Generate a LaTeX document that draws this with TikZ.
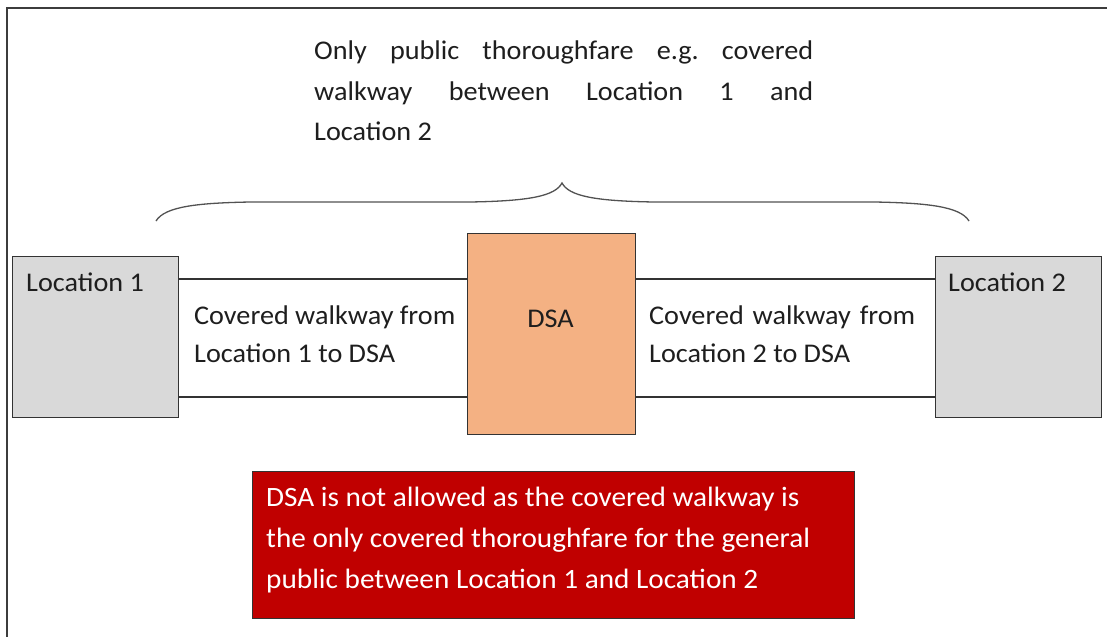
\documentclass[tikz,border=0pt]{standalone}
\usepackage{fontspec}
\setmainfont{Carlito}[FakeStretch=1.045]
\definecolor{txt}{HTML}{1E1E1E}
\definecolor{edge}{HTML}{333333}
\definecolor{locfill}{HTML}{D9D9D9}
\definecolor{dsafill}{HTML}{F4B183}
\definecolor{redfill}{HTML}{C00000}
\definecolor{framec}{HTML}{3C3C3C}
\begin{document}
\begin{tikzpicture}[x=1pt,y=-1pt,
  every node/.style={font=\fontsize{27}{40.5}\selectfont, text=txt},
  box/.style={draw=edge, line width=1.3pt, anchor=north west, inner sep=0pt},
  locbox/.style={box, fill=locfill, minimum width=166pt, minimum height=161pt},
  dsabox/.style={box, fill=dsafill, minimum width=168pt, minimum height=201pt},
  redbox/.style={box, fill=redfill, minimum width=602pt, minimum height=147pt},
  lbl/.style={anchor=base west, inner sep=0pt},
  redlbl/.style={lbl, text=white, font=\fontsize{28}{40.5}\selectfont},
  walk/.style={draw=edge, line width=1.3pt},
  bracec/.style={draw=edge!85, line width=1.3pt}
]
\useasboundingbox (0,0) rectangle (1107,637);
% frame (only top and left edges visible)
\draw[framec, line width=2pt] (1107,8) -- (7,8) -- (7,637);

% boxes
\node[locbox] (loc1) at (12,256) {};
\node[locbox] (loc2) at (935,256) {};
\node[dsabox] (dsa) at (467,233) {};
\node[redbox] (red) at (252,471) {};

% walkway edges
\coordinate (wt) at (0,279);
\coordinate (wb) at (0,397);
\draw[walk] (loc1.east |- wt) -- (dsa.west |- wt);
\draw[walk] (loc1.east |- wb) -- (dsa.west |- wb);
\draw[walk] (dsa.east |- wt) -- (loc2.west |- wt);
\draw[walk] (dsa.east |- wb) -- (loc2.west |- wb);

% labels
\node[lbl] (l1) at (26,291) {Location 1};
\node[lbl] (l2) at (948,291) {Location 2};
\node[anchor=base, inner sep=0pt] (dsat) at (550.5,327) {DSA};
\node[lbl] (w1a) at (194,324) {Covered walkway from};
\node[lbl] (w1b) at (194,362) {Location 1 to DSA};
\node[lbl] (w2a) at (649,324) {\hbox to 266pt{Covered\hfil walkway\hfil from}};
\node[lbl] (w2b) at (649,362) {Location 2 to DSA};

% top text
\node[lbl] (t1) at (314,59) {\hbox to 499pt{Only\hfil public\hfil thoroughfare\hfil e.g.\hfil covered}};
\node[lbl] (t2) at (314,100) {\hbox to 499pt{walkway\hfil between\hfil Location\hfil 1\hfil and}};
\node[lbl] (t3) at (314,140) {Location 2};

% brace
\coordinate (bl) at (156,221);
\coordinate (br) at (969,221);
\coordinate (bt) at (562,183);
\draw[bracec] (bl) .. controls (165,206) and (200,203) .. (250,202)
  -- (470,202) .. controls (530,201) and (555,196) .. (bt)
  .. controls (569,196) and (594,201) .. (654,202)
  -- (875,202) .. controls (925,203) and (960,206) .. (br);

% red box text
\node[redlbl] (r1) at (266,506) {DSA is not allowed as the covered walkway is};
\node[redlbl] (r2) at (266,547) {the only covered thoroughfare for the general};
\node[redlbl] (r3) at (266,588) {public between Location 1 and Location 2};
\end{tikzpicture}
\end{document}
